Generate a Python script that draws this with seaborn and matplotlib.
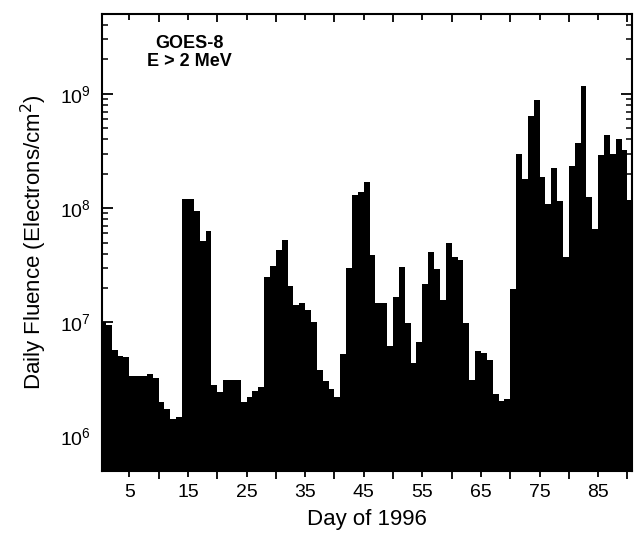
import numpy as np
import matplotlib
matplotlib.use("Agg")
import matplotlib.pyplot as plt
import seaborn as sns

# daily fluence for day 1..91 of 1996
days = np.arange(1, 92)
fluence = [
    1.0e7, 9.5e6, 5.7e6, 5.1e6, 5.0e6, 3.4e6, 3.4e6, 3.4e6, 3.5e6, 3.25e6,
    2.0e6, 1.73e6, 1.44e6, 1.5e6, 1.2e8, 1.2e8, 9.5e7, 5.2e7, 6.3e7, 2.85e6,
    2.45e6, 3.1e6, 3.1e6, 3.1e6, 2.0e6, 2.2e6, 2.5e6, 2.7e6, 2.5e7, 3.1e7,
    4.3e7, 5.3e7, 2.07e7, 1.43e7, 1.48e7, 1.29e7, 1.0e7, 3.85e6, 3.06e6, 2.6e6,
    2.2e6, 5.3e6, 3.0e7, 1.29e8, 1.38e8, 1.69e8, 3.85e7, 1.48e7, 1.48e7, 6.15e6,
    1.66e7, 3.04e7, 9.9e6, 4.4e6, 6.7e6, 2.18e7, 4.1e7, 2.94e7, 1.58e7, 4.97e7,
    3.7e7, 3.5e7, 9.8e6, 3.15e6, 5.6e6, 5.4e6, 4.7e6, 2.37e6, 2.07e6, 2.14e6,
    1.97e7, 3.0e8, 1.78e8, 6.4e8, 8.9e8, 1.86e8, 1.09e8, 2.23e8, 1.16e8, 3.7e7,
    2.34e8, 3.7e8, 1.17e9, 1.26e8, 6.5e7, 2.9e8, 4.35e8, 2.98e8, 4.0e8, 3.2e8,
    1.18e8,
]
label_ticks = [5, 15, 25, 35, 45, 55, 65, 75, 85]
long_ticks = [10, 20, 30, 40, 50, 60, 70, 80, 90]

sns.set_style("ticks", {"axes.edgecolor": "black", "xtick.color": "black",
                        "ytick.color": "black", "text.color": "black",
                        "axes.labelcolor": "black"})
plt.rcParams["font.family"] = ["Liberation Sans", "DejaVu Sans"]

fig = plt.figure(figsize=(6.36, 5.38), dpi=100)
ax = fig.add_axes([0.160, 0.1245, 0.834, 0.8495])

# each day's bar spans [day-1, day]
sns.barplot(x=days - 0.5, y=fluence, native_scale=True, width=1,
            color="black", linewidth=0, antialiased=False,
            errorbar=None, ax=ax)
ax.set_yscale("log")

ax.set_xlim(0.3, 90.8)
ax.set_ylim(5e5, 5e9)

ax.set_xticks(label_ticks)
ax.set_xticklabels([str(t) for t in label_ticks], fontsize=14)
ax.set_xticks(long_ticks, minor=True)
ax.tick_params(axis="x", which="major", direction="out", length=4, width=1.3,
               top=True, pad=5)
ax.tick_params(axis="x", which="minor", direction="out", length=6, width=1.3,
               top=True)
ax.tick_params(axis="y", which="major", direction="in", length=8, width=1.3,
               right=True, labelsize=14, pad=8)
ax.tick_params(axis="y", which="minor", direction="in", length=4.5, width=1.1,
               right=True)
# top ticks point into the plot
for t in ax.xaxis.get_major_ticks() + ax.xaxis.get_minor_ticks():
    t.tick2line.set_marker(matplotlib.lines.TICKDOWN)

for s in ax.spines.values():
    s.set_linewidth(1.5)
    s.set_visible(True)

ax.set_xlabel("Day of 1996", fontsize=16, labelpad=6)
ax.set_ylabel("Daily Fluence (Electrons/cm$^2$)", fontsize=16, labelpad=8)

ax.text(0.165, 0.935, "GOES-8", transform=ax.transAxes, ha="center",
        va="center", fontsize=13, fontweight="bold")
ax.text(0.165, 0.897, "E > 2 MeV", transform=ax.transAxes, ha="center",
        va="center", fontsize=13, fontweight="bold")

fig.savefig("out.png", dpi=100)
